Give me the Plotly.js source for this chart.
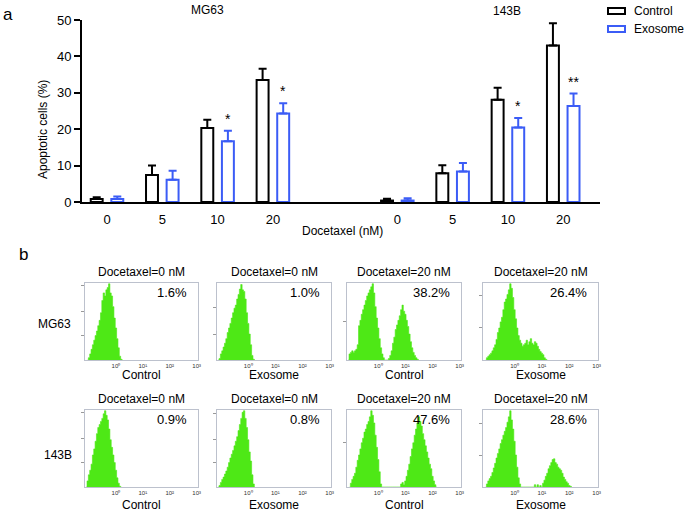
<!DOCTYPE html>
<html><head><meta charset="utf-8">
<script src="https://cdn.plot.ly/plotly-3.0.1.min.js"></script>
<style>html,body{margin:0;padding:0;background:#fff}#chart{width:685px;height:513px}</style>
</head><body><div id="chart"></div>
<script>
// ---------- Panel a data ----------
const doses = ['0', '5', '10', '20'];
const mg63Control = [0.8, 7.4, 20.3, 33.5];
const mg63ControlErr = [0.5, 2.6, 2.3, 3.1];
const mg63Exosome = [0.8, 6.1, 16.7, 24.3];
const mg63ExosomeErr = [0.7, 2.5, 2.9, 2.8];
const b143Control = [0.4, 7.9, 28.1, 43.0];
const b143ControlErr = [0.5, 2.2, 3.3, 6.1];
const b143Exosome = [0.4, 8.4, 20.5, 26.4];
const b143ExosomeErr = [0.6, 2.3, 2.6, 3.4];
const mg63Sig = ['', '', '*', '*'];
const b143Sig = ['', '', '*', '**'];

// ---------- Panel b data (histogram heights, % of panel max, bins of 0.05 log10 units) ----------
const histStep = 0.05;
const histMG63Ctrl0Start = -1.0;
const histMG63Ctrl0 = [3,8,14,20,26,32,38,45,52,62,78,88,84,92,95,100,88,84,70,55,42,28,16,5,1];
const histMG63Exo0Start = -1.05;
const histMG63Exo0 = [2,8,12,17,22,28,36,42,48,55,62,68,72,80,86,93,99,92,90,80,62,48,34,20,6,1];
const histMG63Ctrl20Start = -1.05;
const histMG63Ctrl20 = [8,10,12,10,12,14,20,45,52,60,66,72,78,84,88,92,96,100,88,70,55,42,28,16,8,3,0,0,0,2,6,12,22,30,40,46,52,58,66,72,64,60,52,44,34,24,16,10,6,3,1];
const histMG63Exo20Start = -1.0;
const histMG63Exo20 = [3,5,7,9,12,16,20,27,36,42,50,56,66,76,80,86,92,100,94,82,66,54,42,32,26,22,18,20,22,26,20,24,28,22,20,24,22,18,14,11,9,7,3,1];
const histB143Ctrl0Start = -1.05;
const histB143Ctrl0 = [8,16,22,30,42,50,60,70,78,82,86,90,96,100,94,88,76,62,52,42,32,22,12,5,1];
const histB143Exo0Start = -1.05;
const histB143Exo0 = [2,6,10,13,17,21,26,32,38,43,48,54,60,66,74,82,90,98,100,90,78,62,46,34,16,4];
const histB143Ctrl20Start = -1.0;
const histB143Ctrl20 = [5,10,14,18,26,35,42,50,58,64,72,76,82,86,92,100,94,84,68,52,36,20,4,0,0,0,0,0,0,0,0,0,0,0,0,0,0,4,6,3,8,14,22,30,40,50,58,68,76,84,92,86,80,70,62,54,46,38,30,24,14,8,3];
const histB143Exo20Start = -1.0;
const histB143Exo20 = [4,8,11,14,19,25,31,38,44,50,57,62,68,73,78,85,92,100,88,76,60,42,26,12,4,0,0,0,0,0,0,0,0,0,0,3,0,3,0,2,0,5,9,14,18,24,28,32,36,37,32,30,26,24,22,18,13,10,7,5,2,1];

const panelTitles = ['Docetaxel=0 nM', 'Docetaxel=0 nM', 'Docetaxel=20 nM', 'Docetaxel=20 nM'];
const panelGroups = ['Control', 'Exosome', 'Control', 'Exosome'];
const rowLabels = ['MG63', '143B'];
const percentLabels = ['1.6%', '1.0%', '38.2%', '26.4%', '0.9%', '0.8%', '47.6%', '28.6%'];
const decadeTicks = [0, 1, 2, 3];
const decadeLabels = ['10\u2070', '10\u00b9', '10\u00b2', '10\u00b3'];

// ---------- build ----------
const W = 685, H = 513;
const px = v => v / W;
const py = v => 1 - v / H;
const FONT = '"Liberation Sans", Arial, sans-serif';
const BLUE = '#3b5cf6';
const GREEN = 'rgb(78,232,22)';

const groupOffset = 5.25;
const xMG = doses.map((d, i) => i);
const xB = doses.map((d, i) => i + groupOffset);
const xAll = xMG.concat(xB);
const zeros = xAll.map(() => 0);

const traces = [
  {type: 'bar', name: 'Control', x: xAll, y: mg63Control.concat(b143Control),
   marker: {color: '#ffffff', line: {color: '#000000', width: 2}},
   error_y: {type: 'data', symmetric: false, array: mg63ControlErr.concat(b143ControlErr), arrayminus: zeros,
             color: '#000000', thickness: 2, width: 4},
   xaxis: 'x', yaxis: 'y', showlegend: false, hoverinfo: 'skip'},
  {type: 'bar', name: 'Exosome', x: xAll, y: mg63Exosome.concat(b143Exosome),
   marker: {color: '#ffffff', line: {color: BLUE, width: 2}},
   error_y: {type: 'data', symmetric: false, array: mg63ExosomeErr.concat(b143ExosomeErr), arrayminus: zeros,
             color: BLUE, thickness: 2, width: 4},
   xaxis: 'x', yaxis: 'y', showlegend: false, hoverinfo: 'skip'}
];

const hists = [
  [histMG63Ctrl0Start, histMG63Ctrl0], [histMG63Exo0Start, histMG63Exo0],
  [histMG63Ctrl20Start, histMG63Ctrl20], [histMG63Exo20Start, histMG63Exo20],
  [histB143Ctrl0Start, histB143Ctrl0], [histB143Exo0Start, histB143Exo0],
  [histB143Ctrl20Start, histB143Ctrl20], [histB143Exo20Start, histB143Exo20]
];

const colPx = [[85, 198], [217, 331], [347, 461], [483, 598]];
const rowPx = [[283, 360], [410, 487]];
const groupLabelY = [375, 505];
const histYTicks = [[32, 64, 98], [33, 69], [50], [42, 85], [32, 63, 98], [32, 62, 96], [59], [41, 83]];

const layout = {
  width: W, height: H,
  margin: {l: 0, r: 0, t: 0, b: 0},
  paper_bgcolor: '#ffffff', plot_bgcolor: 'rgba(0,0,0,0)',
  font: {family: FONT, size: 12, color: '#000'},
  barmode: 'group', bargap: 0.255, bargroupgap: 0.42,
  showlegend: false,
  xaxis: {domain: [px(82), px(600)], range: [-0.452, 8.915], tickmode: 'array', tickvals: xAll,
          ticktext: doses.concat(doses), showline: true, linewidth: 2, linecolor: '#000', ticks: '',
          ticklabelstandoff: 4,
          showgrid: false, zeroline: false, tickfont: {size: 13}, anchor: 'y', fixedrange: true},
  yaxis: {domain: [py(202), py(20)], range: [0, 50], dtick: 10, ticks: 'outside', ticklen: 6, tickwidth: 2,
          tickcolor: '#000', showline: true, linewidth: 2, linecolor: '#000', showgrid: false,
          zeroline: false, tickfont: {size: 13}, anchor: 'x', fixedrange: true},
  annotations: [], shapes: []
};

const ann = layout.annotations;
const txt = (text, x, y, size, extra) => ann.push(Object.assign({text, x: px(x), y: py(y), xref: 'paper', yref: 'paper',
  showarrow: false, font: {size: size, family: FONT, color: '#000'}, xanchor: 'center', yanchor: 'middle'}, extra || {}));

txt('a', 8, 14, 17);
txt('b', 23, 255, 17);
txt('MG63', 207, 10, 12);
txt('143B', 507, 11, 12);
txt('Apoptotic cells (%)', 43, 130, 12, {textangle: -90});
txt('Docetaxel (nM)', 342, 231, 12);

// legend (drawn)
const legendItems = [['Control', '#000000', 11], ['Exosome', BLUE, 29]];
legendItems.forEach(([name, col, yc]) => {
  layout.shapes.push({type: 'rect', xref: 'paper', yref: 'paper', x0: px(608), x1: px(625), y0: py(yc - 3), y1: py(yc + 3),
                      line: {color: col, width: 2}, fillcolor: '#fff'});
  txt(name, 632, yc, 12, {xanchor: 'left'});
});

// significance stars
const sigs = mg63Sig.concat(b143Sig);
const exoAll = mg63Exosome.concat(b143Exosome);
const exoErrAll = mg63ExosomeErr.concat(b143ExosomeErr);
sigs.forEach((s, i) => {
  if (!s) return;
  ann.push({text: s, x: xAll[i] + 0.186, y: exoAll[i] + exoErrAll[i], xref: 'x', yref: 'y', showarrow: false,
            yanchor: 'bottom', yshift: 2, font: {size: 14, family: FONT, color: '#000'}});
});

// histograms
hists.forEach(([start, h], i) => {
  const k = i + 2;
  const r = Math.floor(i / 4), c = i % 4;
  const xs = [start - histStep].concat(h.map((v, j) => start + j * histStep), [start + h.length * histStep]);
  const ys = [0].concat(h, [0]);
  traces.push({type: 'scatter', mode: 'lines', x: xs, y: ys, fill: 'tozeroy', fillcolor: GREEN,
               line: {color: GREEN, width: 0.6, shape: 'hvh'}, xaxis: 'x' + k, yaxis: 'y' + k,
               showlegend: false, hoverinfo: 'skip'});
  layout['xaxis' + k] = {domain: [px(colPx[c][0]), px(colPx[c][1])], range: [-1.15, 3.05], anchor: 'y' + k,
    tickmode: 'array', tickvals: decadeTicks, ticktext: decadeLabels, tickfont: {size: 6, color: '#333'},
    ticks: '', showline: true, mirror: true, linecolor: '#bcc1cd', linewidth: 1, showgrid: false, zeroline: false,
    fixedrange: true};
  layout['yaxis' + k] = {domain: [py(rowPx[r][1]), py(rowPx[r][0])], range: [0, 101], anchor: 'x' + k,
    tickmode: 'array', tickvals: histYTicks[i], showticklabels: false, ticks: 'outside', ticklen: 3, tickcolor: '#999',
    showline: true, mirror: true, linecolor: '#bcc1cd', linewidth: 1, showgrid: false, zeroline: false, fixedrange: true};
  const xc = (colPx[c][0] + colPx[c][1]) / 2;
  txt(panelTitles[c], xc, rowPx[r][0] - 11, 12);
  txt(panelGroups[c], xc, groupLabelY[r], 12);
  ann.push({text: percentLabels[i], xref: 'x' + k + ' domain', yref: 'y' + k + ' domain', x: 0.92, y: 0.88,
            xanchor: 'right', yanchor: 'middle', showarrow: false, font: {size: 13, family: FONT, color: '#000'}});
});
txt(rowLabels[0], 73, 324, 12, {xanchor: 'right'});
txt(rowLabels[1], 74, 455, 12, {xanchor: 'right'});

Plotly.newPlot('chart', traces, layout, {staticPlot: true, displayModeBar: false});
</script></body></html>
